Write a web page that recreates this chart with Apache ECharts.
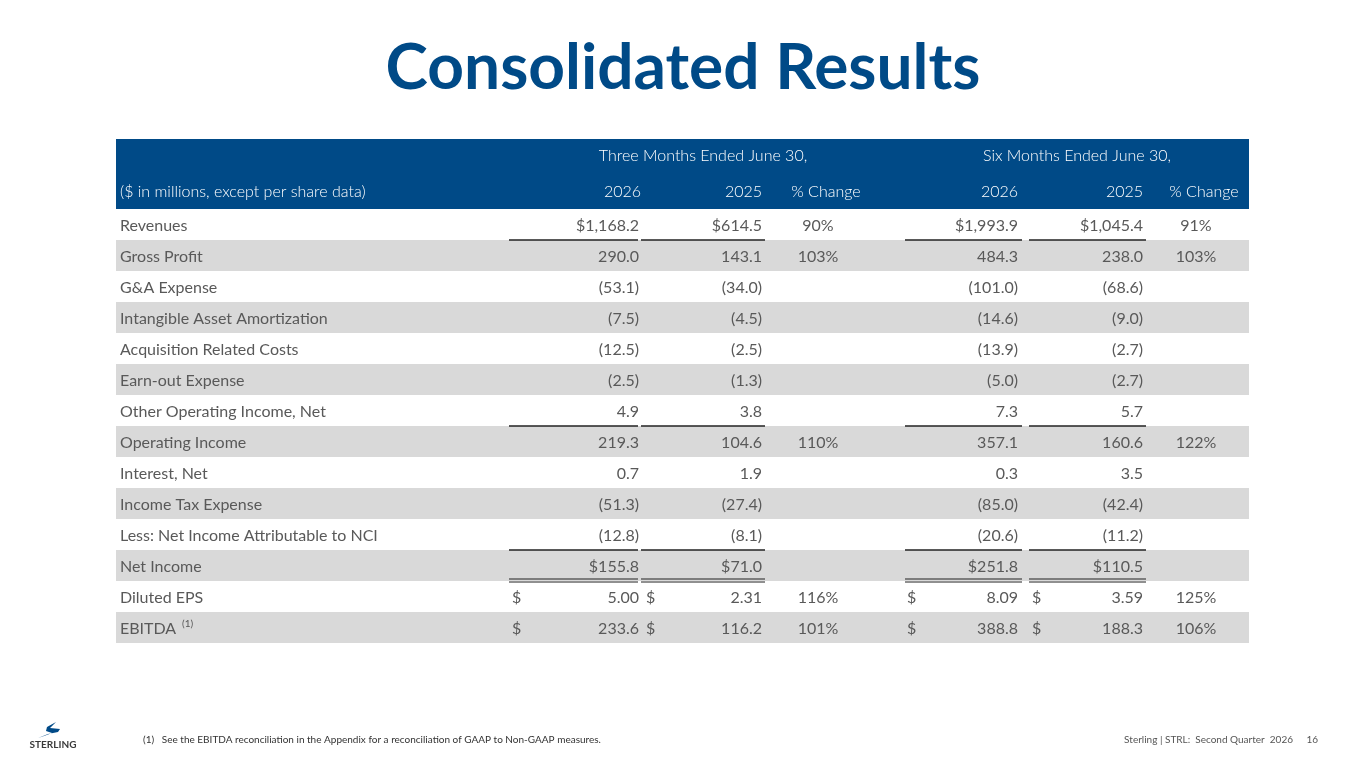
<!DOCTYPE html>
<html><head><meta charset="utf-8">
<script src="https://cdn.jsdelivr.net/npm/echarts@6/dist/echarts.min.js"></script>
<style>html,body{margin:0;padding:0;background:#fff}#c{width:1365px;height:768px}</style>
</head><body><div id="c"></div>
<script>
const rowLabels = ["Revenues","Gross Profit","G&A Expense","Intangible Asset Amortization","Acquisition Related Costs","Earn-out Expense","Other Operating Income, Net","Operating Income","Interest, Net","Income Tax Expense","Less: Net Income Attributable to NCI","Net Income","Diluted EPS","EBITDA"];
const q2026 = ["$1,168.2","290.0","(53.1)","(7.5)","(12.5)","(2.5)","4.9","219.3","0.7","(51.3)","(12.8)","$155.8","5.00","233.6"];
const q2025 = ["$614.5","143.1","(34.0)","(4.5)","(2.5)","(1.3)","3.8","104.6","1.9","(27.4)","(8.1)","$71.0","2.31","116.2"];
const qChg = ["90%","103%","","","","","","110%","","","","","116%","101%"];
const h2026 = ["$1,993.9","484.3","(101.0)","(14.6)","(13.9)","(5.0)","7.3","357.1","0.3","(85.0)","(20.6)","$251.8","8.09","388.8"];
const h2025 = ["$1,045.4","238.0","(68.6)","(9.0)","(2.7)","(2.7)","5.7","160.6","3.5","(42.4)","(11.2)","$110.5","3.59","188.3"];
const hChg = ["91%","103%","","","","","","122%","","","","","125%","106%"];
const dollarRows = [12,13];
const headerGroups = ["Three Months Ended June 30,","Six Months Ended June 30,"];
const headerCols = ["($ in millions, except per share data)","2026","2025","% Change","2026","2025","% Change"];

const BLUE="#004a87", TXT="#595959", GRAY="#d9d9d9";
const X0=116, X1=1249, TOP=139, HH=70, RH=31;
const F='Lato, "Open Sans", sans-serif';
const g=[];
function txt(x,y,s,o){g.push({type:'text',x:x,y:y,style:Object.assign({text:s,fill:TXT,font:'16px '+F,textAlign:'left',textVerticalAlign:'middle'},o||{})});}
function rect(x,y,w,h,c){g.push({type:'rect',shape:{x:x,y:y,width:w,height:h},style:{fill:c}});}
function line(x1,x2,y,w){g.push({type:'line',shape:{x1:x1,y1:y,x2:x2,y2:y},style:{stroke:'#222',lineWidth:w||1.5}});}

txt(683,68,"Consolidated Results",{font:'bold 64px '+F,fill:BLUE,textAlign:'center'});
rect(X0,TOP,X1-X0,HH,BLUE);
const H={fill:'#fff',font:'300 16px '+F};
txt(703,156,headerGroups[0],Object.assign({textAlign:'center'},H));
txt(1077,156,headerGroups[1],Object.assign({textAlign:'center'},H));
txt(120,192,headerCols[0],H);
txt(641,192,headerCols[1],Object.assign({textAlign:'right'},H));
txt(762,192,headerCols[2],Object.assign({textAlign:'right'},H));
txt(826,192,headerCols[3],Object.assign({textAlign:'center'},H));
txt(1018,192,headerCols[4],Object.assign({textAlign:'right'},H));
txt(1143,192,headerCols[5],Object.assign({textAlign:'right'},H));
txt(1204,192,headerCols[6],Object.assign({textAlign:'center'},H));

const y0=TOP+HH;
rowLabels.forEach((lab,i)=>{
  const yt=y0+i*RH, yc=yt+RH/2+1;
  if(i%2===1) rect(X0,yt,X1-X0,RH,GRAY);
  txt(120,yc,lab);
  if(i===13) txt(182,yc-5,"(1)",{font:'10px '+F});
  txt(639,yc,q2026[i],{textAlign:'right'});
  txt(762,yc,q2025[i],{textAlign:'right'});
  txt(818,yc,qChg[i],{textAlign:'center'});
  txt(1018,yc,h2026[i],{textAlign:'right'});
  txt(1143,yc,h2025[i],{textAlign:'right'});
  txt(1196,yc,hChg[i],{textAlign:'center'});
  if(dollarRows.indexOf(i)>=0){txt(512,yc,"$");txt(646,yc,"$");txt(907,yc,"$");txt(1032,yc,"$");}
});
const segs=[[509,638],[641,765],[905,1022],[1029,1146]];
[1,7,11].forEach(r=>segs.forEach(s=>line(s[0],s[1],y0+r*RH,1.5)));
segs.forEach(s=>{line(s[0],s[1],y0+12*RH-2,1.2);line(s[0],s[1],y0+12*RH+1,1.2);});

g.push({type:'polygon',shape:{points:[[38,738],[48,734],[58,732],[60,729],[50,728],[56,722],[47,727],[46,731],[52,733],[44,736]]},style:{fill:BLUE}});
txt(53,745,"STERLING",{font:'bold 10px '+F,fill:'#3a3a3a',textAlign:'center'});
txt(143,740,"(1)   See the EBITDA reconciliation in the Appendix for a reconciliation of GAAP to Non-GAAP measures.",{font:'10px '+F,fill:'#333'});
txt(1293,740,"Sterling | STRL:  Second Quarter  2026",{font:'10px '+F,fill:'#555',textAlign:'right'});
txt(1318,740,"16",{font:'10px '+F,fill:'#555',textAlign:'right'});

const chart=echarts.init(document.getElementById('c'));
chart.setOption({animation:false,graphic:{elements:g}});
</script></body></html>
